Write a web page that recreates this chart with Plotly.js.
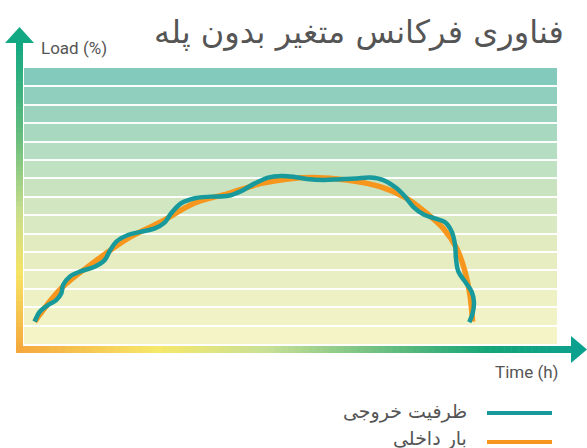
<!DOCTYPE html>
<html><head><meta charset="utf-8">
<script src="https://cdn.plot.ly/plotly-3.0.1.min.js"></script>
<style>html,body{margin:0;padding:0;background:#fff;}#chart{width:587px;height:448px;}</style>
</head><body><div id="chart"></div>
<script>
// ---- text ----
const chartTitle = "فناوری فرکانس متغیر بدون پله";
const xLabel = "Time (h)";
const yLabel = "Load (%)";
const seriesNames = ["ظرفیت خروجی", "بار داخلی"];

// ---- data: internal load (smooth arc) ----
const loadTime   = [0.48, 1.68, 3.18, 4.68, 6.18, 7.69, 9.19, 10.69, 11.89, 13.03, 14.53, 16.03, 17.23, 18.13, 18.88, 19.48, 19.86, 20.08, 20.20];
const loadValues = [8.1, 20.2, 29.8, 38.3, 44.3, 51.1, 54.5, 58.2, 59.8, 60.3, 59.4, 57.0, 52.8, 47.4, 41.9, 34.7, 26.2, 17.8, 8.1];

// ---- data: output capacity (wavy line) ----
const outputTime   = [0.48, 0.71, 1.08, 1.45, 1.68, 1.76, 2.06, 2.58, 3.18, 3.63, 3.86, 4.16, 4.68, 5.28, 5.89, 6.34, 6.63, 7.08, 7.69, 8.43, 9.19, 9.78, 10.39, 10.99, 11.59, 12.13, 12.73, 13.48, 14.23, 14.98, 15.58, 16.18, 16.78, 17.16, 17.53, 17.98, 18.58, 18.96, 19.26, 19.41, 19.45, 19.56, 19.86, 20.16, 20.26, 20.20, 20.05];
const outputValues = [8.1, 11.7, 14.1, 15.9, 18.4, 21.4, 24.4, 26.4, 28.0, 30.4, 33.7, 37.1, 39.5, 40.7, 41.9, 44.1, 47.4, 51.0, 52.8, 53.4, 53.7, 55.4, 58.2, 60.3, 60.9, 60.6, 59.8, 59.4, 59.7, 60.0, 60.3, 59.4, 56.4, 53.4, 49.7, 47.0, 45.3, 44.1, 40.7, 35.9, 31.1, 26.2, 22.6, 18.9, 15.3, 11.1, 7.9];

// ---- styling helpers ----
const W = 587, H = 448, ML = 24, MR = 30, MT = 68, MB = 104;
const PW = W - ML - MR, PH = H - MT - MB;
const px = v => (v - ML) / PW;          // pixel x -> paper
const py = v => (H - MB - v) / PH;      // pixel y -> paper

function lerpColor(stops, t) {
  for (let i = 0; i < stops.length - 1; i++) {
    const [p0, c0] = stops[i], [p1, c1] = stops[i + 1];
    if (t >= p0 && t <= p1) {
      const f = (t - p0) / (p1 - p0);
      const c = c0.map((v, k) => Math.round(v + (c1[k] - v) * f));
      return `rgb(${c[0]},${c[1]},${c[2]})`;
    }
  }
  const c = stops[stops.length - 1][1];
  return `rgb(${c[0]},${c[1]},${c[2]})`;
}

const shapes = [];
// background stripes (bottom light yellow -> top teal)
const nBands = 15;
const yMax = 100, xMax = 24;
const bandStops = [[0, [246, 245, 200]], [0.35, [228, 236, 192]], [0.65, [190, 224, 194]], [1, [125, 200, 188]]];
for (let k = 0; k < nBands; k++) {
  shapes.push({type: 'rect', xref: 'x', yref: 'y', layer: 'below',
    x0: 0, x1: xMax, y0: k * yMax / nBands, y1: (k + 1) * yMax / nBands,
    fillcolor: lerpColor(bandStops, (k + 0.5) / nBands), line: {width: 0}});
}

// vertical axis bar gradient
const vStops = [[0, [245, 168, 60]], [0.25, [246, 228, 100]], [0.45, [200, 222, 140]], [0.7, [100, 188, 125]], [1, [18, 168, 130]]];
const vTop = 40, vBot = 353, nV = 60;
for (let i = 0; i < nV; i++) {
  const y0 = vBot - (vBot - vTop) * i / nV, y1 = vBot - (vBot - vTop) * (i + 1) / nV - 0.6;
  shapes.push({type: 'rect', xref: 'paper', yref: 'paper', layer: 'above',
    x0: px(16), x1: px(23), y0: py(y0), y1: py(y1),
    fillcolor: lerpColor(vStops, i / (nV - 1)), line: {width: 0}});
}
// horizontal axis bar gradient
const hStops = [[0, [245, 168, 60]], [0.25, [246, 232, 105]], [0.45, [200, 224, 150]], [0.7, [90, 185, 125]], [0.85, [20, 165, 120]], [1, [15, 160, 140]]];
const hL = 16, hR = 574, nH = 80;
for (let i = 0; i < nH; i++) {
  const x0 = hL + (hR - hL) * i / nH, x1 = hL + (hR - hL) * (i + 1) / nH + 0.6;
  shapes.push({type: 'rect', xref: 'paper', yref: 'paper', layer: 'above',
    x0: px(x0), x1: px(x1), y0: py(353), y1: py(346),
    fillcolor: lerpColor(hStops, i / (nH - 1)), line: {width: 0}});
}
// arrow heads
shapes.push({type: 'path', xref: 'paper', yref: 'paper', layer: 'above',
  path: `M ${px(19.5)} ${py(27)} L ${px(34)} ${py(43)} L ${px(5)} ${py(43)} Z`,
  fillcolor: 'rgb(18,168,130)', line: {width: 0}});
shapes.push({type: 'path', xref: 'paper', yref: 'paper', layer: 'above',
  path: `M ${px(587)} ${py(349.5)} L ${px(571)} ${py(336)} L ${px(571)} ${py(363)} Z`,
  fillcolor: 'rgb(12,160,142)', line: {width: 0}});

// legend samples
const tealColor = '#18999b', orangeColor = '#f7961c';
shapes.push({type: 'line', xref: 'paper', yref: 'paper', x0: px(487), x1: px(552), y0: py(413), y1: py(413), line: {color: tealColor, width: 4}});
shapes.push({type: 'line', xref: 'paper', yref: 'paper', x0: px(487), x1: px(552), y0: py(442), y1: py(442), line: {color: orangeColor, width: 4}});

const textColor = '#555555';
const annotations = [
  {text: chartTitle, xref: 'paper', yref: 'paper', x: px(566), y: py(32), xanchor: 'right', yanchor: 'middle', showarrow: false,
   font: {family: 'DejaVu Sans', size: 32, color: textColor}},
  {text: yLabel, xref: 'paper', yref: 'paper', x: px(39), y: py(48), xanchor: 'left', yanchor: 'middle', showarrow: false,
   font: {family: 'Roboto', size: 17, color: textColor}},
  {text: xLabel, xref: 'paper', yref: 'paper', x: px(561), y: py(372), xanchor: 'right', yanchor: 'middle', showarrow: false,
   font: {family: 'Roboto', size: 17, color: textColor}},
  {text: seriesNames[0], xref: 'paper', yref: 'paper', x: px(469), y: py(411), xanchor: 'right', yanchor: 'middle', showarrow: false,
   font: {family: 'DejaVu Sans', size: 19, color: textColor}},
  {text: seriesNames[1], xref: 'paper', yref: 'paper', x: px(469), y: py(438), xanchor: 'right', yanchor: 'middle', showarrow: false,
   font: {family: 'DejaVu Sans', size: 19, color: textColor}}
];

const traces = [
  {x: loadTime, y: loadValues, name: seriesNames[1], type: 'scatter', mode: 'lines',
   line: {color: orangeColor, width: 5.5, shape: 'spline', smoothing: 1}, hoverinfo: 'skip'},
  {x: outputTime, y: outputValues, name: seriesNames[0], type: 'scatter', mode: 'lines',
   line: {color: tealColor, width: 4.5, shape: 'spline', smoothing: 1}, hoverinfo: 'skip'}
];

const layout = {
  width: W, height: H,
  margin: {l: ML, r: MR, t: MT, b: MB, pad: 0},
  paper_bgcolor: '#ffffff', plot_bgcolor: 'rgba(0,0,0,0)',
  showlegend: false,
  xaxis: {range: [0, xMax], showgrid: false, zeroline: false, showline: false, showticklabels: false, ticks: '', fixedrange: true},
  yaxis: {range: [0, yMax], tick0: 0, dtick: yMax / nBands, showgrid: true, gridcolor: 'rgba(255,255,255,0.95)', gridwidth: 2,
          zeroline: false, showline: false, showticklabels: false, ticks: '', fixedrange: true},
  shapes: shapes,
  annotations: annotations
};

Plotly.newPlot('chart', traces, layout, {displayModeBar: false, staticPlot: true});
</script>
</body></html>
